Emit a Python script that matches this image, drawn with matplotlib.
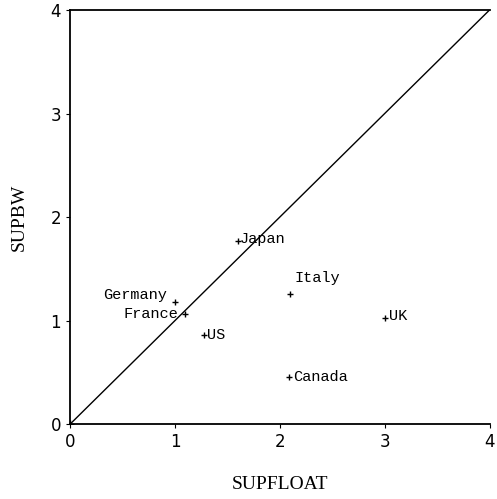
import matplotlib.pyplot as plt

countries = ['Japan', 'Germany', 'France', 'US', 'Italy', 'UK', 'Canada']
supfloat = [1.60, 1.00, 1.10, 1.28, 2.10, 3.00, 2.09]
supbw = [1.77, 1.18, 1.06, 0.86, 1.26, 1.03, 0.46]

# label offsets in points (dx, dy) and alignment
offsets = {
    'Japan': (1, 1, 'left'),
    'Germany': (-6, 5, 'right'),
    'France': (-5, 0, 'right'),
    'US': (2, 0, 'left'),
    'Italy': (3, 11, 'left'),
    'UK': (3, 1, 'left'),
    'Canada': (3, 0, 'left'),
}

fig = plt.figure(figsize=(4.97, 4.99), dpi=100)
ax = fig.add_axes([0.141, 0.150, 0.844, 0.830])

ax.plot([0, 4], [0, 4], color='black', lw=1)
ax.plot([0], [0], marker='+', color='black', ms=6)
ax.scatter(supfloat, supbw, marker='+', color='black', s=25, linewidths=1)
for name, x, y in zip(countries, supfloat, supbw):
    dx, dy, ha = offsets[name]
    ax.annotate(name, (x, y), xytext=(dx, dy), textcoords='offset points',
                ha=ha, va='center', family='Liberation Mono', fontsize=11)

ax.set_xlim(0, 4)
ax.set_ylim(0, 4)
ax.set_xticks([0, 1, 2, 3, 4])
ax.set_yticks([0, 1, 2, 3, 4])
ax.tick_params(length=3, labelsize=12)
ax.spines['right'].set_visible(False)
for s in ['left', 'bottom', 'top']:
    ax.spines[s].set_linewidth(1.3)
ax.set_xlabel('SUPFLOAT', family='Liberation Serif', fontsize=14, labelpad=18)
ax.set_ylabel('SUPBW', family='Liberation Serif', fontsize=14, labelpad=16)

fig.savefig('out.png', dpi=100)
